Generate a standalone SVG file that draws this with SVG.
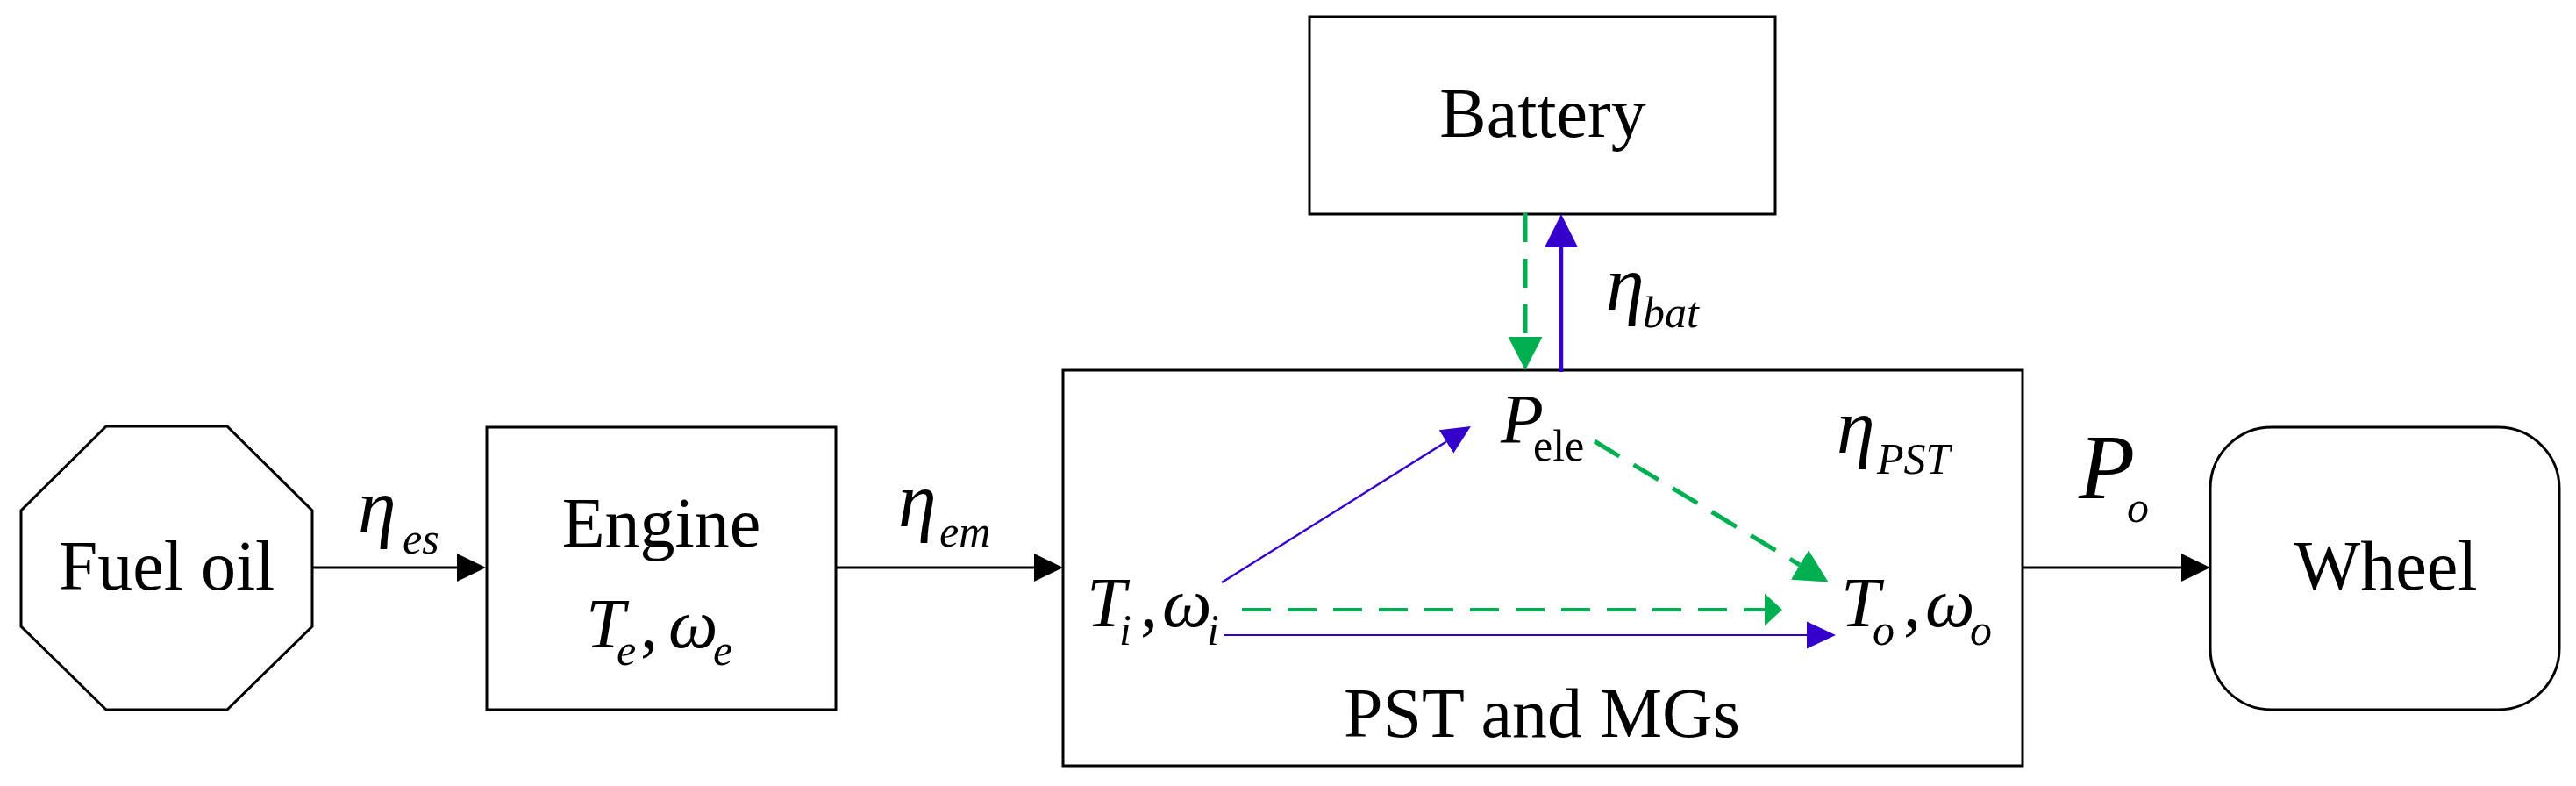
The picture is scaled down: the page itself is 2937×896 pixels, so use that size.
<svg xmlns="http://www.w3.org/2000/svg" width="2937" height="896" viewBox="0 0 2937 896">
<style>
  .box { fill: #ffffff; stroke: #000000; stroke-width: 3; }
  .lbl { font-family: "Liberation Serif", "Times New Roman", serif; font-size: 80px; fill: #000000; }
  .it { font-style: italic; }
  .sub { font-size: 50px; }
  .eta { font-size: 88px; font-style: italic; }
  .blk { stroke: #000000; stroke-width: 3; fill: none; }
  .blue { stroke: #3300CC; fill: none; }
  .green { stroke: #00B050; fill: none; stroke-dasharray: 33 19; }
</style>
<defs>
  <marker id="mBlack" markerUnits="userSpaceOnUse" markerWidth="34" markerHeight="34" viewBox="0 -17 34 34" refX="0" refY="0" orient="auto">
    <path d="M0,-16 L33,0 L0,16 Z" fill="#000000"/>
  </marker>
  <marker id="mGreen" markerUnits="userSpaceOnUse" markerWidth="40" markerHeight="42" viewBox="0 -21 40 42" refX="0" refY="0" orient="auto">
    <path d="M0,-19.5 L38,0 L0,19.5 Z" fill="#00B050"/>
  </marker>
  <marker id="mGreenShort" markerUnits="userSpaceOnUse" markerWidth="22" markerHeight="40" viewBox="0 -20 22 40" refX="0" refY="0" orient="auto">
    <path d="M0,-18.5 L20,0 L0,18.5 Z" fill="#00B050"/>
  </marker>
  <marker id="mBlue" markerUnits="userSpaceOnUse" markerWidth="40" markerHeight="42" viewBox="0 -21 40 42" refX="0" refY="0" orient="auto">
    <path d="M0,-19 L38,0 L0,19 Z" fill="#3300CC"/>
  </marker>
  <marker id="mBlueSmall" markerUnits="userSpaceOnUse" markerWidth="35" markerHeight="34" viewBox="0 -17 35 34" refX="0" refY="0" orient="auto">
    <path d="M0,-15.5 L33,0 L0,15.5 Z" fill="#3300CC"/>
  </marker>
</defs>
<rect width="2937" height="896" fill="#ffffff"/>

<g id="fuel-oil">
  <polygon class="box" points="121,486 259,486 356,582 356,714 259,809 121,809 24,714 24,582"/>
  <text class="lbl" x="190" y="672" text-anchor="middle">Fuel oil</text>
</g>

<g id="engine">
  <rect class="box" x="555" y="487" width="398" height="322"/>
  <text class="lbl" x="754" y="623" text-anchor="middle">Engine</text>
  <text class="lbl it"><tspan x="668" y="738">T</tspan><tspan class="sub" x="703" y="758">e</tspan><tspan x="730" y="738" font-style="normal">,</tspan><tspan x="762" y="738">ω</tspan><tspan class="sub" x="813" y="758">e</tspan></text>
</g>

<g id="battery">
  <rect class="box" x="1493" y="19" width="531" height="225"/>
  <text class="lbl" x="1759" y="156" text-anchor="middle">Battery</text>
</g>

<g id="pst">
  <rect class="box" x="1212" y="422" width="1094" height="451"/>
  <text class="lbl" x="1758" y="840" text-anchor="middle">PST and MGs</text>
  <text class="lbl it"><tspan x="1711" y="505">P</tspan><tspan class="sub" font-style="normal" font-size="44px" x="1748" y="525">ele</tspan></text>
  <text class="lbl it"><tspan x="1239" y="714">T</tspan><tspan class="sub" x="1276" y="735">i</tspan><tspan x="1300" y="714" font-style="normal">,</tspan><tspan x="1325" y="714">ω</tspan><tspan class="sub" x="1376" y="735">i</tspan></text>
  <text class="lbl it"><tspan x="2099" y="714">T</tspan><tspan class="sub" x="2135" y="735">o</tspan><tspan x="2170" y="714" font-style="normal">,</tspan><tspan x="2195" y="714">ω</tspan><tspan class="sub" x="2246" y="735">o</tspan></text>
  <text class="lbl"><tspan class="eta" x="2094" y="516">η</tspan><tspan class="sub it" font-size="55px" x="2140" y="540">PST</tspan></text>
</g>

<g id="wheel">
  <rect class="box" x="2520" y="487" width="398" height="322" rx="70" ry="70"/>
  <text class="lbl" x="2720" y="672" text-anchor="middle">Wheel</text>
</g>

<g id="connectors">
  <line class="blk" x1="356" y1="647" x2="521" y2="647" marker-end="url(#mBlack)"/>
  <line class="blk" x1="953" y1="647" x2="1179" y2="647" marker-end="url(#mBlack)"/>
  <line class="blk" x1="2306" y1="647" x2="2487" y2="647" marker-end="url(#mBlack)"/>
  <line class="green" stroke-width="5" x1="1739" y1="243" x2="1739" y2="384" marker-end="url(#mGreen)"/>
  <line class="blue" stroke-width="4.5" x1="1780" y1="424" x2="1780" y2="282" marker-end="url(#mBlue)"/>
  <line class="blue" stroke-width="2.5" x1="1393" y1="664" x2="1649" y2="503.5" marker-end="url(#mBlueSmall)"/>
  <line class="green" stroke-width="5" x1="1818" y1="503" x2="2052" y2="644" marker-end="url(#mGreen)"/>
  <line class="green" stroke-width="4" x1="1416" y1="695" x2="2012" y2="695" marker-end="url(#mGreenShort)"/>
  <line class="blue" stroke-width="2" x1="1395" y1="724" x2="2060" y2="724" marker-end="url(#mBlueSmall)"/>
  <text class="lbl"><tspan class="eta" x="408" y="607">η</tspan><tspan class="sub it" x="459" y="631">es</tspan></text>
  <text class="lbl"><tspan class="eta" x="1024" y="600">η</tspan><tspan class="sub it" x="1071" y="623">em</tspan></text>
  <text class="lbl"><tspan class="eta" x="1831" y="353">η</tspan><tspan class="sub it" x="1873" y="373">bat</tspan></text>
  <text class="lbl it"><tspan font-size="105px" x="2370" y="568">P</tspan><tspan class="sub" font-size="60px" x="2425" y="595">o</tspan></text>
</g>
</svg>
